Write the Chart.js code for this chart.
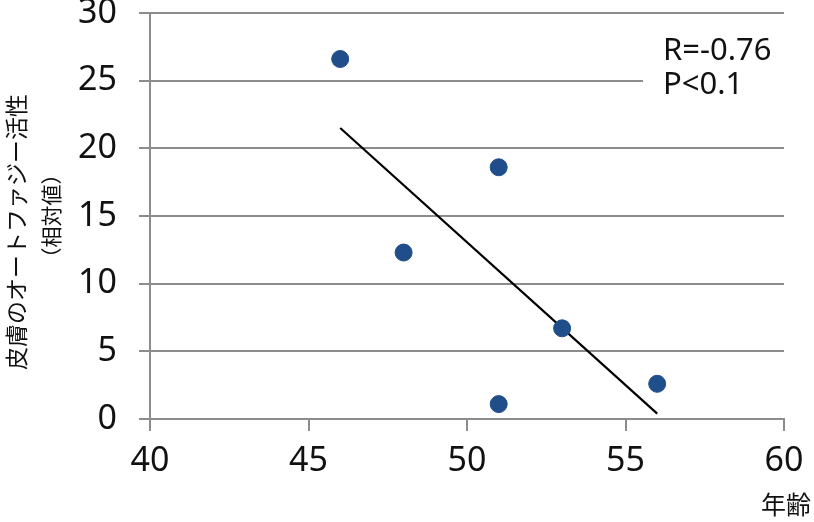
<!DOCTYPE html>
<html>
<head>
<meta charset="utf-8">
<script src="https://cdn.jsdelivr.net/npm/chart.js@4/dist/chart.umd.min.js"></script>
<style>
  html, body { margin: 0; padding: 0; background: #fff; }
  #wrap { width: 814px; height: 522px; position: relative; }
</style>
</head>
<body>
<div id="wrap"><canvas id="c"></canvas></div>
<script>
// ── data ──
const ages = [46, 51, 48, 53, 51, 56];
const activity = [26.6, 18.6, 12.3, 6.7, 1.1, 2.6];
const trendX = [46, 56];
const trendY = [21.5, 0.4];
const xTicks = [40, 45, 50, 55, 60];
const yTicks = [0, 5, 10, 15, 20, 25, 30];
const statLines = ['R=-0.76', 'P<0.1'];
const yTitle = ['皮膚のオートファジー活性', '（相対値）'];
const xTitle = '年齢';

const GRID = '#8c8c8c';
const TXT = '#111111';
const NUM_FONT = "'Noto Sans', 'Open Sans', sans-serif";
const JP_FONT = "'Noto Sans CJK JP', sans-serif";

// text labels and the stat box, drawn on the canvas
const labelsPlugin = {
  id: 'labels',
  beforeDatasetsDraw(chart) {
    const ctx = chart.ctx;
    ctx.save();
    // stat box hides the gridline behind it
    ctx.fillStyle = '#ffffff';
    ctx.fillRect(643, 24, 150, 84);
    ctx.fillStyle = TXT;
    ctx.font = `31px ${NUM_FONT}`;
    ctx.textAlign = 'left';
    ctx.textBaseline = 'middle';
    ctx.fillText(statLines[0], 663, 51);
    ctx.fillText(statLines[1], 663, 85);
    ctx.restore();
  },
  afterDraw(chart) {
    const ctx = chart.ctx;
    ctx.save();
    ctx.fillStyle = TXT;
    ctx.textAlign = 'center';
    ctx.textBaseline = 'middle';
    ctx.save();
    ctx.translate(16, 232);
    ctx.rotate(-Math.PI / 2);
    ctx.font = `23px ${JP_FONT}`;
    ctx.fillText(yTitle[0], 0, 0);
    ctx.restore();
    ctx.save();
    ctx.translate(51, 216);
    ctx.rotate(-Math.PI / 2);
    ctx.font = `21px ${JP_FONT}`;
    ctx.fillText(yTitle[1], 0, 0);
    ctx.restore();
    ctx.font = `25px ${JP_FONT}`;
    ctx.fillText(xTitle, 786, 504);
    ctx.restore();
  }
};

new Chart(document.getElementById('c'), {
  type: 'scatter',
  data: {
    datasets: [
      {
        label: 'data',
        data: ages.map((x, i) => ({ x, y: activity[i] })),
        backgroundColor: '#1f4e8a',
        borderColor: '#1f4e8a',
        pointRadius: 8.5,
        pointHoverRadius: 8.5,
      },
      {
        label: 'trend',
        data: trendX.map((x, i) => ({ x, y: trendY[i] })),
        showLine: true,
        borderColor: '#000000',
        borderWidth: 2.2,
        pointRadius: 0,
        fill: false,
      }
    ]
  },
  options: {
    responsive: true,
    maintainAspectRatio: false,
    animation: false,
    layout: { padding: { left: 0, right: 30, top: 13, bottom: 0 } },
    plugins: { legend: { display: false }, tooltip: { enabled: false } },
    scales: {
      x: {
        type: 'linear',
        min: 40, max: 60,
        afterBuildTicks: s => { s.ticks = xTicks.map(v => ({ value: v })); },
        afterFit: s => { s.height = 103; s.paddingLeft = 0; s.paddingRight = 0; },
        border: { display: true, color: GRID, width: 2 },
        grid: { drawOnChartArea: false, drawTicks: true, tickLength: 12, color: GRID, lineWidth: 2 },
        ticks: { color: TXT, font: { family: NUM_FONT, size: 34 }, padding: 10 }
      },
      y: {
        min: 0, max: 30,
        afterBuildTicks: s => { s.ticks = yTicks.map(v => ({ value: v })); },
        afterFit: s => { s.width = 150; s.paddingTop = 0; s.paddingBottom = 0; },
        border: { display: true, color: GRID, width: 2 },
        grid: { color: GRID, lineWidth: 2, tickLength: 11 },
        ticks: { color: TXT, font: { family: NUM_FONT, size: 34 }, padding: 22 }
      }
    }
  },
  plugins: [labelsPlugin]
});
</script>
</body>
</html>
